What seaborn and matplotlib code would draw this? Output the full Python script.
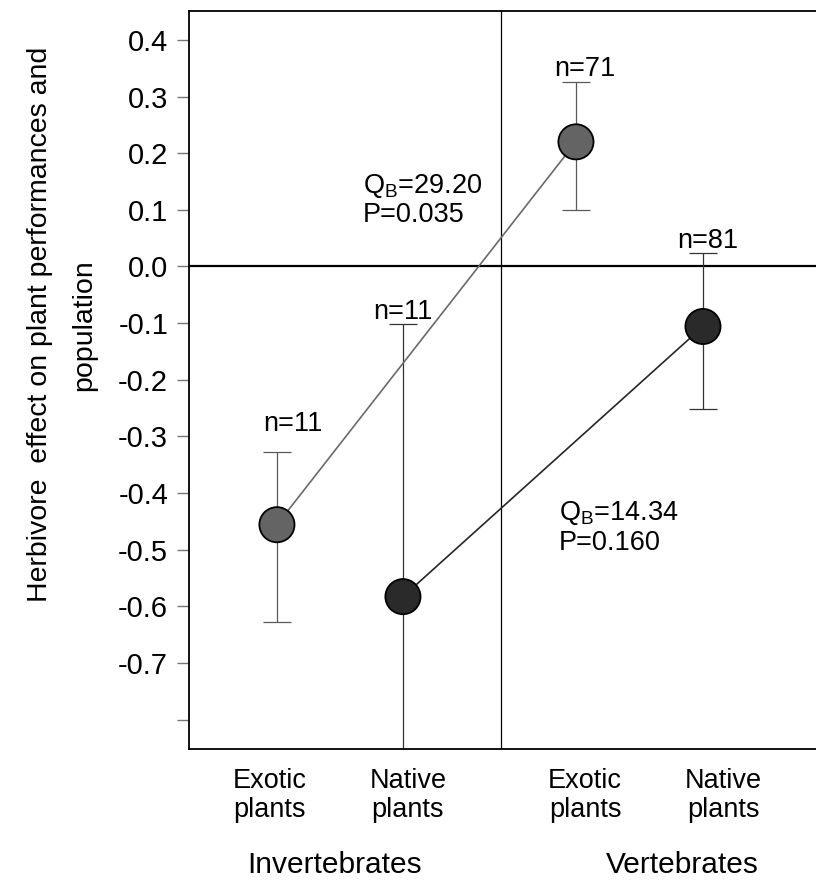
import matplotlib
matplotlib.use("Agg")
import matplotlib.pyplot as plt
import matplotlib.transforms as mtransforms
import seaborn as sns
import pandas as pd
import numpy as np

# ---- data ----
groups = ["Invertebrates", "Invertebrates", "Vertebrates", "Vertebrates"]
origins = ["Exotic", "Native", "Exotic", "Native"]
tick_labels = ["Exotic\nplants", "Native\nplants", "Exotic\nplants", "Native\nplants"]
effect = [-0.456, -0.583, 0.220, -0.106]
ci_low = [-0.628, -1.06, 0.099, -0.252]
ci_high = [-0.327, -0.102, 0.325, 0.023]
n_labels = ["n=11", "n=11", "n=71", "n=81"]
qb_texts = [r"Q$_\mathregular{B}$=29.20" + "\nP=0.035", r"Q$_\mathregular{B}$=14.34" + "\nP=0.160"]
yticks = [0.4, 0.3, 0.2, 0.1, 0.0, -0.1, -0.2, -0.3, -0.4, -0.5, -0.6, -0.7, -0.8]
ytick_labels = ["0.4", "0.3", "0.2", "0.1", "0.0", "-0.1", "-0.2", "-0.3", "-0.4", "-0.5", "-0.6", "-0.7", ""]
group_labels = ["Invertebrates", "Vertebrates"]

# ---- layout (positions) ----
xpos = [1.0, 2.0, 3.373, 4.381]
divider_x = 2.778
tick_dx_px = [-7, 5, 9, 20]

sns.set_theme(style="white")
plt.rcParams["font.family"] = ["Liberation Sans", "DejaVu Sans"]
plt.rcParams["mathtext.fontset"] = "custom"
plt.rcParams["mathtext.rm"] = "Liberation Sans"
plt.rcParams["text.color"] = "black"
plt.rcParams["axes.labelcolor"] = "black"
plt.rcParams["xtick.color"] = "black"
plt.rcParams["ytick.color"] = "black"

df = pd.DataFrame({"x": xpos, "effect": effect, "origin": origins, "group": groups,
                   "lo": ci_low, "hi": ci_high})

fig = plt.figure(figsize=(8.16, 8.82), dpi=100)
ax = fig.add_axes([0.2316, 0.1508, 0.7684, 0.8367])

marker_col = {"Exotic": "#646464", "Native": "#2a2a2a"}
line_col = {"Exotic": "#6a6a6a", "Native": "#262626"}
err_col = {"Exotic": "#5a5a5a", "Native": "#333333"}

# zero line and divider
ax.axhline(0, color="black", lw=1.6, zorder=1)
ax.axvline(divider_x, color="black", lw=0.9, zorder=1)

# error bars
for o in ["Exotic", "Native"]:
    sub = df[df.origin == o]
    ax.errorbar(sub.x, sub.effect, yerr=[sub.effect - sub.lo, sub.hi - sub.effect],
                fmt="none", ecolor=err_col[o], elinewidth=0.9, capsize=10, capthick=0.9, zorder=2)

# connecting lines
sns.lineplot(data=df, x="x", y="effect", hue="origin", palette=line_col, lw=1.2,
             legend=False, ax=ax, zorder=3, sort=False, estimator=None)

# points
sns.scatterplot(data=df, x="x", y="effect", hue="origin", palette=marker_col, s=640,
                edgecolor="black", linewidth=1.3, legend=False, ax=ax, zorder=4)

# n labels
n_y = [-0.279, -0.080, 0.349, 0.045]
n_dx = [0.13, 0.0, 0.07, 0.04]
for i in range(4):
    ax.text(xpos[i] + n_dx[i], n_y[i], n_labels[i], ha="center", va="center", fontsize=19.5)

# Q_B annotations
ax.text(1.68, 0.117, qb_texts[0], ha="left", va="center", fontsize=19.5, linespacing=1.12)
ax.text(3.24, -0.461, qb_texts[1], ha="left", va="center", fontsize=19.5, linespacing=1.12)

ax.set_xlim(0.302, 5.278)
ax.set_ylim(-0.852, 0.451)
ax.set_yticks(yticks)
ax.set_yticklabels(ytick_labels, fontsize=21)
ax.set_xticks(xpos)
ax.set_xticklabels(tick_labels, fontsize=19.5, linespacing=1.15)
ax.tick_params(axis="x", length=0, pad=14)
ax.tick_params(axis="y", length=9, width=1.0, color="#777777", pad=6, direction="out", left=True)
for lab, dx in zip(ax.get_xticklabels(), tick_dx_px):
    lab.set_transform(lab.get_transform() + mtransforms.ScaledTranslation(dx / 100, 0, fig.dpi_scale_trans))

for side in ["left", "top", "bottom"]:
    ax.spines[side].set_color("black")
    ax.spines[side].set_linewidth(1.3)
ax.spines["right"].set_visible(False)

ax.set_xlabel("")
ax.set_ylabel("Herbivore  effect on plant performances and\npopulation", fontsize=20.5,
              linespacing=1.9, multialignment="center")
ax.yaxis.set_label_coords(-0.147, 0.575)

# group labels
ax.text(1.461, -1.057, group_labels[0], ha="center", va="center", fontsize=21.5)
ax.text(4.215, -1.057, group_labels[1], ha="center", va="center", fontsize=21.5)

fig.savefig("out.png", dpi=100)
